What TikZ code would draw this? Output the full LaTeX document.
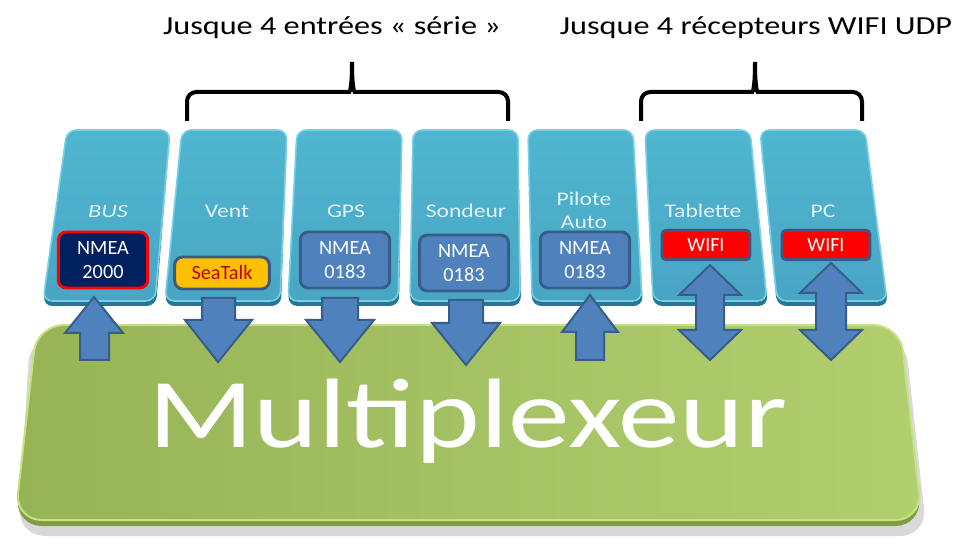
\documentclass[tikz,border=0pt]{standalone}
\usepackage{fontspec}
\setmainfont{Carlito}

\definecolor{panelTop}{RGB}{72,166,196}
\definecolor{panelBot}{RGB}{80,182,208}
\definecolor{panelRim}{RGB}{120,208,230}
\definecolor{panelDark}{RGB}{38,118,148}
\definecolor{panelText}{RGB}{225,243,248}
\definecolor{greenLeft}{RGB}{150,180,86}
\definecolor{greenRight}{RGB}{178,207,112}
\definecolor{greenRim}{RGB}{196,226,128}
\definecolor{greenDark}{RGB}{128,156,70}
\definecolor{arrowFill}{RGB}{79,129,189}
\definecolor{arrowRim}{RGB}{56,93,138}
\definecolor{navyBox}{RGB}{0,32,96}
\definecolor{slateRim}{RGB}{62,88,128}
\definecolor{seaFill}{RGB}{255,192,0}
\definecolor{seaText}{RGB}{192,0,0}

\begin{document}
\begin{tikzpicture}[x=0.75pt,y=0.75pt,yscale=-1,xscale=1,
  panel/.style={rounded corners=7, top color=panelBot, bottom color=panelTop, draw=panelRim, line width=1.2},
  panelside/.style={rounded corners=7, fill=panelDark},
  arrowblk/.style={fill=arrowFill, draw=arrowRim, line width=1.5, line join=miter},
  brace/.style={line width=3, rounded corners=7},
  lbl/.style={text=panelText, inner sep=0, anchor=base},
  nmeabox/.style={rounded corners=6, fill=arrowFill, draw=arrowRim, line width=2.2, text=white,
    minimum width=67pt, minimum height=42pt, inner sep=0, align=center,
    font=\fontsize{15.2pt}{18pt}\selectfont},
  wifibox/.style={rounded corners=3, fill=red, draw=slateRim, line width=2.2, text=white,
    minimum width=66pt, minimum height=22pt, inner sep=0, font=\fontsize{15pt}{18pt}\selectfont}]
%uncomment if require: \path (0,556); %set diagram left start at 0, and has height of 556
\useasboundingbox (0,0) rectangle (976,556);

%Shape: Panel BUS
\fill[panelside] (67,134) -- (170,134) -- (156,306) -- (43,306) -- cycle;
\draw[panel] (67,130) -- (170,130) -- (155,301) -- (43,301) -- cycle;
%Shape: Panel Vent
\fill[panelside] (182,134) -- (287,134) -- (281,306) -- (165,306) -- cycle;
\draw[panel] (182,130) -- (287,130) -- (280,301) -- (165,301) -- cycle;
%Shape: Panel GPS
\fill[panelside] (297,134) -- (402,134) -- (399,306) -- (288,306) -- cycle;
\draw[panel] (297,130) -- (402,130) -- (398,301) -- (288,301) -- cycle;
%Shape: Panel Sondeur
\fill[panelside] (413,134) -- (518,134) -- (521,306) -- (410,306) -- cycle;
\draw[panel] (413,130) -- (518,130) -- (520,301) -- (410,301) -- cycle;
%Shape: Panel Pilote
\fill[panelside] (528,134) -- (633,134) -- (643,306) -- (532,306) -- cycle;
\draw[panel] (528,130) -- (633,130) -- (642,301) -- (532,301) -- cycle;
%Shape: Panel Tablette
\fill[panelside] (645,134) -- (750,134) -- (768,306) -- (653,306) -- cycle;
\draw[panel] (645,130) -- (750,130) -- (767,301) -- (653,301) -- cycle;
%Shape: Panel PC
\fill[panelside] (760,134) -- (865,134) -- (888,306) -- (777,306) -- cycle;
\draw[panel] (760,130) -- (865,130) -- (887,301) -- (777,301) -- cycle;

%Shape: Multiplexeur box
\fill[gray, opacity=0.3, rounded corners=20] (30,336) -- (905,336) -- (927,536) -- (18,536) -- cycle;
\fill[greenDark, rounded corners=20] (37,330) -- (900,330) -- (922,526) -- (15,526) -- cycle;
\draw[left color=greenLeft, right color=greenRight, draw=greenRim, line width=1.5, rounded corners=20] (37,325) -- (900,325) -- (922,520) -- (15,520) -- cycle;

% Text Node
\node[anchor=base, text=white, inner sep=0] (mux) at (468,447) {\fontsize{74pt}{80pt}\selectfont\scalebox{1.25}[1]{Multiplexeur}};

%Shape: Up Arrow [BUS]
\draw[arrowblk] (94,297) -- (123,333) -- (109,333) -- (109,360) -- (80,360) -- (80,333) -- (65,333) -- cycle;
%Shape: Down Arrow [Vent]
\draw[arrowblk] (202,298) -- (235,298) -- (235,320) -- (252,320) -- (218,362) -- (185,320) -- (202,320) -- cycle;
%Shape: Down Arrow [GPS]
\draw[arrowblk] (322,298) -- (358,298) -- (358,320) -- (374,320) -- (340,362) -- (306,320) -- (322,320) -- cycle;
%Shape: Down Arrow [Sondeur]
\draw[arrowblk] (449,300) -- (483,300) -- (483,323) -- (500,323) -- (466,365) -- (432,323) -- (449,323) -- cycle;
%Shape: Up Arrow [Pilote]
\draw[arrowblk] (590,295) -- (618,332) -- (604,332) -- (604,360) -- (576,360) -- (576,332) -- (562,332) -- cycle;
%Shape: Up-Down Arrow [Tablette]
\draw[arrowblk] (710,265) -- (741,295) -- (724,295) -- (724,330) -- (741,330) -- (710,360) -- (679,330) -- (696,330) -- (696,295) -- (679,295) -- cycle;
%Shape: Up-Down Arrow [PC]
\draw[arrowblk] (831,263) -- (862,293) -- (846,293) -- (846,330) -- (862,330) -- (831,360) -- (800,330) -- (816,330) -- (816,293) -- (800,293) -- cycle;

% Text Node
\node[lbl] (bus) at (108,218) {\fontsize{14pt}{16pt}\selectfont\scalebox{1.3}[1]{\itshape BUS}};
% Text Node
\node[lbl] (vent) at (227,218) {\fontsize{14.5pt}{16pt}\selectfont\scalebox{1.22}[1]{Vent}};
% Text Node
\node[lbl] (gps) at (346,218) {\fontsize{14.5pt}{16pt}\selectfont\scalebox{1.22}[1]{GPS}};
% Text Node
\node[lbl] (sondeur) at (466,218) {\fontsize{14.5pt}{16pt}\selectfont\scalebox{1.22}[1]{Sondeur}};
% Text Node
\node[lbl] (pilote) at (584,206) {\fontsize{14.5pt}{16pt}\selectfont\scalebox{1.22}[1]{Pilote}};
% Text Node
\node[lbl] (auto) at (584,229) {\fontsize{14.5pt}{16pt}\selectfont\scalebox{1.22}[1]{Auto}};
% Text Node
\node[lbl] (tablette) at (703,218) {\fontsize{14.5pt}{16pt}\selectfont\scalebox{1.22}[1]{Tablette}};
% Text Node
\node[lbl] (pc) at (823,218) {\fontsize{14.5pt}{16pt}\selectfont\scalebox{1.22}[1]{PC}};

% Text Node
\node[nmeabox, fill=navyBox, draw=red] (nmeabus) at (103,260) {NMEA\\2000};
% Text Node
\node[nmeabox, fill=seaFill, draw=slateRim, text=seaText, minimum width=71pt, minimum height=24pt] (seatalk) at (222,273) {SeaTalk};
% Text Node
\node[nmeabox] (nmeagps) at (345,260) {NMEA\\0183};
% Text Node
\node[nmeabox] (nmeasondeur) at (464,263) {NMEA\\0183};
% Text Node
\node[nmeabox] (nmeapilote) at (585,260) {NMEA\\0183};
% Text Node
\node[wifibox] (wifitab) at (706,245) {WIFI};
% Text Node
\node[wifibox] (wifipc) at (826,245) {WIFI};

%Shape: Brace [entrees]
\draw[brace] (187,121) -- (187,92) -- (340,92) .. controls (350,92) and (352,86) .. (352,62);
\draw[brace] (508,121) -- (508,92) -- (364,92) .. controls (354,92) and (352,86) .. (352,62);
%Shape: Brace [recepteurs]
\draw[brace] (641,121) -- (641,92) -- (743,92) .. controls (753,92) and (755,86) .. (755,62);
\draw[brace] (862,121) -- (862,92) -- (767,92) .. controls (757,92) and (755,86) .. (755,62);

% Text Node
\node[anchor=base, inner sep=0] (titleserie) at (332,35) {\fontsize{19.5pt}{22pt}\selectfont\scalebox{1.24}[1]{Jusque 4 entrées « série »}};
% Text Node
\node[anchor=base, inner sep=0] (titlewifi) at (756,35) {\fontsize{19.5pt}{22pt}\selectfont\scalebox{1.24}[1]{Jusque 4 récepteurs WIFI UDP}};

\end{tikzpicture}
\end{document}
